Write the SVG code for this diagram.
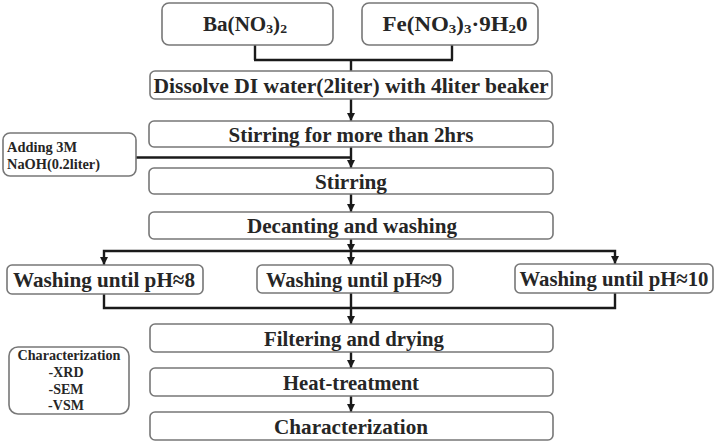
<svg xmlns="http://www.w3.org/2000/svg" width="725" height="448" viewBox="0 0 725 448">
<defs>
<marker id="ah" markerUnits="userSpaceOnUse" markerWidth="9" markerHeight="8" refX="8" refY="4" orient="auto-start-reverse" viewBox="0 0 8 8">
<path d="M0,0 L8,4 L0,8 z" fill="#1a1a1a"/>
</marker>
<style>
.box{fill:#fff;stroke:#777;stroke-width:1.6}
text{font-family:'Liberation Serif','DejaVu Serif','Times New Roman',serif;font-weight:700;fill:#262626;text-anchor:middle}
.m{font-size:22px}
.s{font-size:14px}
.c{fill:none;stroke:#1a1a1a;stroke-width:2.4}
</style>
</defs>
<rect width="725" height="448" fill="#fff"/>
<g id="connectors">
<path class="c" d="M255,45 V60 M452,45 V60 M254,60 H453 M351,60 V71"/>
<path class="c" d="M351,99 V121" marker-end="url(#ah)"/>
<path class="c" d="M136,157.5 H351"/>
<path class="c" d="M351,147 V168" marker-end="url(#ah)"/>
<path class="c" d="M351,194 V212" marker-end="url(#ah)"/>
<path class="c" d="M351,239 V252" marker-end="url(#ah)"/>
<path class="c" d="M104,265 V251 H615 V264" marker-start="url(#ah)" marker-end="url(#ah)"/>
<path class="c" d="M351,251 V265" marker-end="url(#ah)"/>
<path class="c" d="M104,294 V308 H615 V293 M351,293 V308"/>
<path class="c" d="M351,308 V324" marker-end="url(#ah)"/>
<path class="c" d="M351,352 V368" marker-end="url(#ah)"/>
<path class="c" d="M351,396 V412" marker-end="url(#ah)"/>
</g>
<g id="ba">
<rect class="box" x="162" y="3" width="171" height="42" rx="7"/>
<text style="font-size:20px" x="245" y="31" textLength="84" lengthAdjust="spacingAndGlyphs">Ba(NO<tspan font-size="13" dy="2">3</tspan><tspan dy="-2">)</tspan><tspan font-size="13" dy="2">2</tspan></text>
</g>
<g id="fe">
<rect class="box" x="362" y="3" width="176" height="42" rx="7"/>
<text style="font-size:20px" x="455" y="31" textLength="145" lengthAdjust="spacingAndGlyphs">Fe(NO<tspan font-size="13" dy="2">3</tspan><tspan dy="-2">)</tspan><tspan font-size="13" dy="2">3</tspan><tspan dy="-2">·9H</tspan><tspan font-size="13" dy="2">2</tspan><tspan dy="-2">0</tspan></text>
</g>
<g id="dissolve">
<rect class="box" x="150" y="71" width="402" height="28" rx="5"/>
<text class="m" x="351" y="93" textLength="395" lengthAdjust="spacingAndGlyphs">Dissolve DI water(2liter) with 4liter beaker</text>
</g>
<g id="stir2">
<rect class="box" x="149" y="121" width="404" height="26" rx="5"/>
<text class="m" x="351" y="142" textLength="245" lengthAdjust="spacingAndGlyphs">Stirring for more than 2hrs</text>
</g>
<g id="naoh">
<rect class="box" x="3" y="133" width="133" height="43" rx="7"/>
<text class="s" x="7" y="152" style="text-anchor:start" textLength="70" lengthAdjust="spacingAndGlyphs">Adding 3M</text>
<text class="s" x="7" y="169" style="text-anchor:start" textLength="93" lengthAdjust="spacingAndGlyphs">NaOH(0.2liter)</text>
</g>
<g id="stir">
<rect class="box" x="149" y="168" width="404" height="26" rx="5"/>
<text class="m" x="351" y="189" textLength="72" lengthAdjust="spacingAndGlyphs">Stirring</text>
</g>
<g id="decant">
<rect class="box" x="149" y="212" width="404" height="27" rx="5"/>
<text class="m" x="352" y="233" textLength="210" lengthAdjust="spacingAndGlyphs">Decanting and washing</text>
</g>
<g id="ph8">
<rect class="box" x="7" y="265" width="196" height="29" rx="5"/>
<text class="m" x="104" y="287" textLength="182" lengthAdjust="spacingAndGlyphs">Washing until pH≈8</text>
</g>
<g id="ph9">
<rect class="box" x="257" y="265" width="196" height="28" rx="5"/>
<text class="m" x="354" y="287" textLength="176" lengthAdjust="spacingAndGlyphs">Washing until pH≈9</text>
</g>
<g id="ph10">
<rect class="box" x="515" y="264" width="198" height="29" rx="5"/>
<text class="m" x="614" y="286" textLength="189" lengthAdjust="spacingAndGlyphs">Washing until pH≈10</text>
</g>
<g id="filter">
<rect class="box" x="150" y="324" width="403" height="28" rx="5"/>
<text class="m" x="354" y="346" textLength="180" lengthAdjust="spacingAndGlyphs">Filtering and drying</text>
</g>
<g id="heat">
<rect class="box" x="150" y="368" width="403" height="28" rx="5"/>
<text class="m" x="351" y="390" textLength="136" lengthAdjust="spacingAndGlyphs">Heat-treatment</text>
</g>
<g id="char">
<rect class="box" x="150" y="412" width="403" height="28" rx="5"/>
<text class="m" x="351" y="434" textLength="154" lengthAdjust="spacingAndGlyphs">Characterization</text>
</g>
<g id="charlist">
<rect class="box" x="9" y="347" width="120" height="67" rx="9"/>
<text class="s" x="69" y="360" textLength="103" lengthAdjust="spacingAndGlyphs">Characterization</text>
<text class="s" x="66" y="377">-XRD</text>
<text class="s" x="66" y="394">-SEM</text>
<text class="s" x="66" y="410">-VSM</text>
</g>
</svg>
